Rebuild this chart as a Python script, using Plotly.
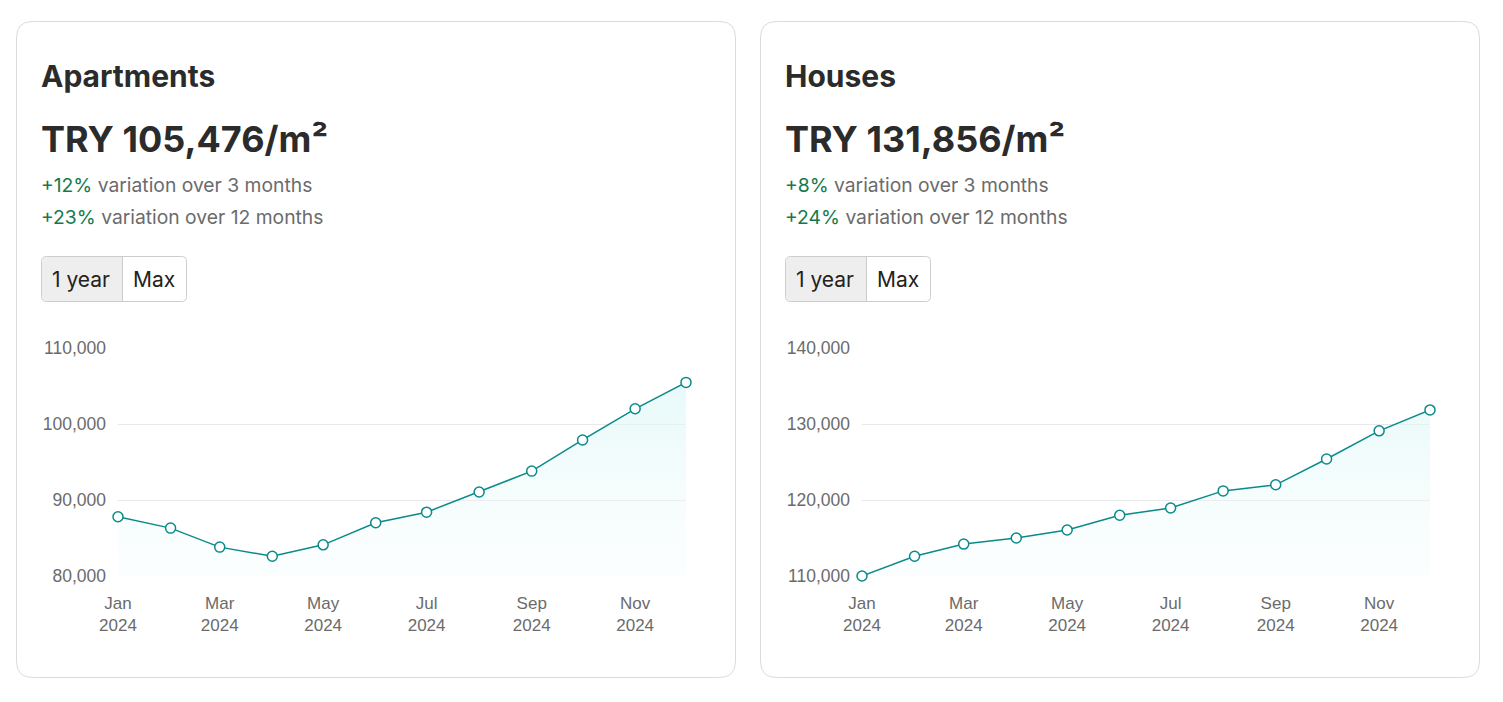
import plotly.graph_objects as go

# page body has an 8px margin, so the figure sits at (8, 8) in the window
OFF = 8
W, H = 1503 - OFF, 702 - OFF

months = ['2024-01-01', '2024-02-01', '2024-03-01', '2024-04-01', '2024-05-01', '2024-06-01',
          '2024-07-01', '2024-08-01', '2024-09-01', '2024-10-01', '2024-11-01', '2024-12-01']
apartments = [87800, 86300, 83800, 82600, 84100, 87000, 88400, 91050, 93800, 97900, 102000, 105476]
houses = [110000, 112600, 114200, 115000, 116050, 118000, 118950, 121200, 122000, 125400, 129100, 131856]

tick_dates = ['2024-01-01', '2024-03-01', '2024-05-01', '2024-07-01', '2024-09-01', '2024-11-01']
tick_labels = ['Jan<br>2024', 'Mar<br>2024', 'May<br>2024', 'Jul<br>2024', 'Sep<br>2024', 'Nov<br>2024']

cards = [
    dict(title='Apartments', price='TRY 105,476/m²', var3='+12%', var12='+23%', left=16, values=apartments, yrange=[80000, 110000]),
    dict(title='Houses', price='TRY 131,856/m²', var3='+8%', var12='+24%', left=760, values=houses, yrange=[110000, 140000]),
]

colors = {
    'text': '#2b2b2b',
    'muted': '#6b6b6b',
    'green': '#137a4c',
    'line': '#0b8a8a',
    'border': '#dadada',
    'grid': '#e9e9e9',
}

FONT = 'Inter, Noto Sans, sans-serif'
CHART_FONT = 'Liberation Sans, Arial, sans-serif'


def px(x):
    return (x - OFF) / W


def py(y):
    return 1 - (y - OFF) / H


def rounded_rect(x0, y0, x1, y1, r):
    # path in paper coords, corners rounded by r pixels
    X = lambda v: f'{px(v):.5f}'
    Y = lambda v: f'{py(v):.5f}'
    return (f'M {X(x0 + r)},{Y(y0)} L {X(x1 - r)},{Y(y0)} Q {X(x1)},{Y(y0)} {X(x1)},{Y(y0 + r)} '
            f'L {X(x1)},{Y(y1 - r)} Q {X(x1)},{Y(y1)} {X(x1 - r)},{Y(y1)} '
            f'L {X(x0 + r)},{Y(y1)} Q {X(x0)},{Y(y1)} {X(x0)},{Y(y1 - r)} '
            f'L {X(x0)},{Y(y0 + r)} Q {X(x0)},{Y(y0)} {X(x0 + r)},{Y(y0)} Z')


fig = go.Figure()
shapes = []
annotations = []

for i, c in enumerate(cards):
    L = c['left']
    n = '' if i == 0 else str(i + 1)

    shapes.append(dict(type='path', xref='paper', yref='paper', path=rounded_rect(L + 0.5, 21.5, L + 719.5, 677.5, 16),
                       line=dict(color=colors['border'], width=1), fillcolor='white', layer='below'))

    # buttons
    shapes.append(dict(type='path', xref='paper', yref='paper', path=rounded_rect(L + 25.5, 256.5, L + 170.5, 301.5, 5),
                       line=dict(color='#cccccc', width=1), fillcolor='white', layer='below'))
    shapes.append(dict(type='path', xref='paper', yref='paper',
                       path=(f'M {px(L + 31):.5f},{py(257):.5f} L {px(L + 106):.5f},{py(257):.5f} '
                             f'L {px(L + 106):.5f},{py(301):.5f} L {px(L + 31):.5f},{py(301):.5f} '
                             f'Q {px(L + 26):.5f},{py(301):.5f} {px(L + 26):.5f},{py(296):.5f} '
                             f'L {px(L + 26):.5f},{py(262):.5f} Q {px(L + 26):.5f},{py(257):.5f} {px(L + 31):.5f},{py(257):.5f} Z'),
                       line=dict(width=0), fillcolor='#eeeeee', layer='below'))
    shapes.append(dict(type='line', xref='paper', yref='paper', x0=px(L + 106.5), x1=px(L + 106.5), y0=py(257), y1=py(301),
                       line=dict(color='#cccccc', width=1), layer='below'))

    texts = [
        (c['title'], 23, 76, 30, colors['text'], True),
        (c['price'], 23, 139, 36, colors['text'], True),
        (f"<span style='color:{colors['green']}'>{c['var3']}</span> variation over 3 months", 23, 185, 19.3, colors['muted'], False),
        (f"<span style='color:{colors['green']}'>{c['var12']}</span> variation over 12 months", 23, 217, 19.3, colors['muted'], False),
        ('1 year', 34, 279, 21, '#222222', False),
        ('Max', 115, 279, 21, '#222222', False),
    ]
    for t, x, y, s, col, bold in texts:
        annotations.append(dict(text=f'<b>{t}</b>' if bold else t, x=px(L + x), y=py(y), xref='paper', yref='paper',
                                xanchor='left', yanchor='middle', showarrow=False,
                                font=dict(size=s, color=col, family=FONT)))

    fig.add_trace(go.Scatter(
        x=months, y=c['values'], mode='lines+markers', xaxis='x' + n, yaxis='y' + n,
        line=dict(color=colors['line'], width=1.5),
        marker=dict(size=10, color='white', line=dict(color=colors['line'], width=1.5)),
        fill='tozeroy',
        fillgradient=dict(type='vertical', start=c['yrange'][0], stop=c['yrange'][1],
                          colorscale=[[0, 'rgba(235,250,250,0.15)'], [1, 'rgba(220,246,246,0.8)']]),
        cliponaxis=False, showlegend=False, hoverinfo='x+y'))

    fig.update_layout(**{
        'xaxis' + n: dict(domain=[px(L + 102), px(L + 670)], range=['2024-01-01', '2024-12-01'],
                          anchor='y' + n, type='date', tickmode='array', tickvals=tick_dates, ticktext=tick_labels,
                          showgrid=False, zeroline=False, showline=False, ticks='', automargin=False,
                          ticklabelstandoff=15,
                          tickfont=dict(size=17, color=colors['muted'], family=CHART_FONT)),
        'yaxis' + n: dict(domain=[py(576), py(348)], range=c['yrange'], anchor='x' + n,
                          dtick=10000, tickformat=',d', showgrid=True, gridcolor=colors['grid'], gridwidth=1,
                          zeroline=False, showline=False, ticks='', ticklabelstandoff=11, automargin=False,
                          tickfont=dict(size=17.5, color=colors['muted'], family=CHART_FONT)),
    })

fig.update_layout(
    width=W, height=H,
    margin=dict(l=0, r=0, t=0, b=0, pad=0),
    paper_bgcolor='white', plot_bgcolor='rgba(0,0,0,0)',
    shapes=shapes, annotations=annotations,
    font=dict(family=FONT),
)

fig.write_html('out.html')
